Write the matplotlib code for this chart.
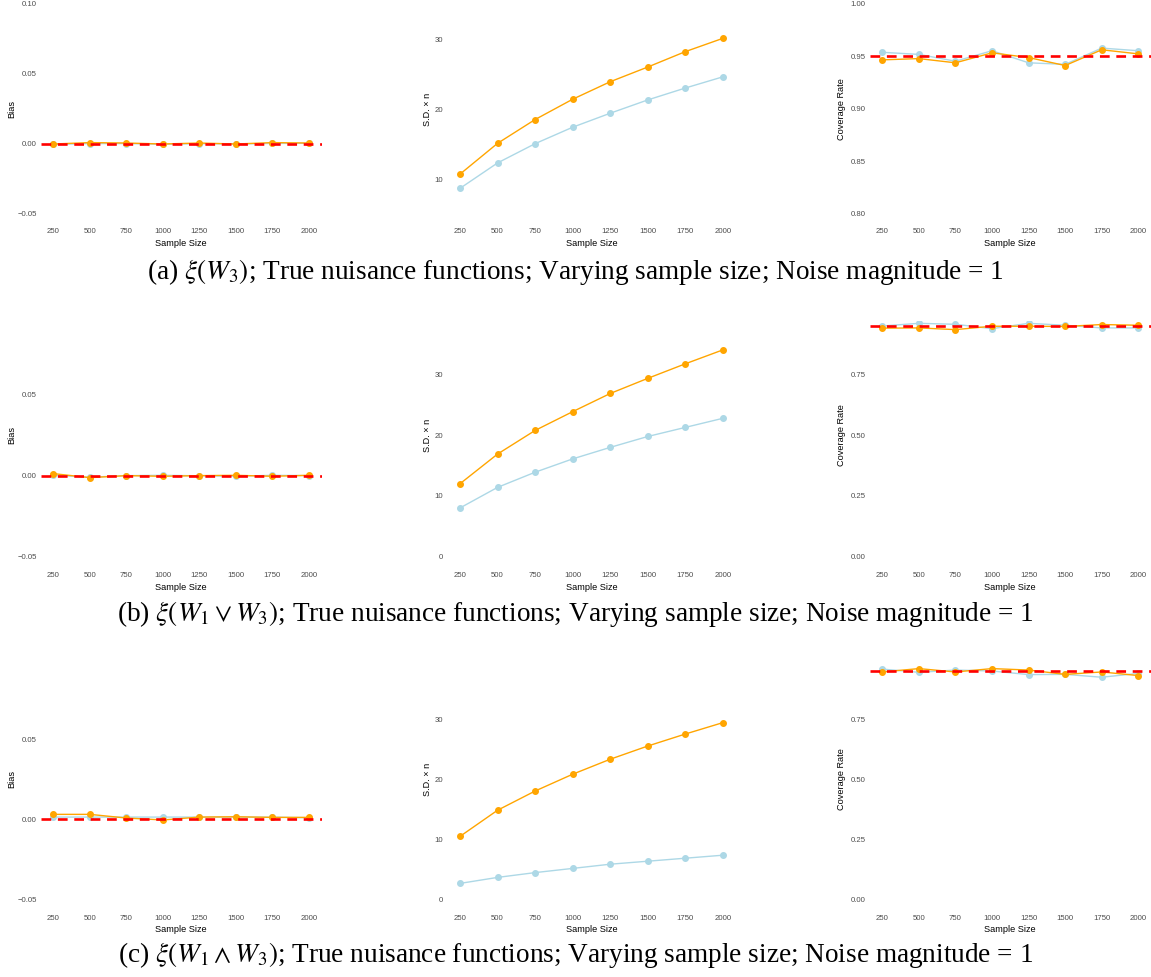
import matplotlib
matplotlib.use("Agg")
import matplotlib.pyplot as plt

# ---------------- data ----------------
sample_sizes = [250, 500, 750, 1000, 1250, 1500, 1750, 2000]
xtick_labels = ["250", "500", "750", "1000", "1250", "1500", "1750", "2000"]

# (a) xi(W3)
bias_a_blue = [-0.0003, 0.0003, 0.0003, -0.0002, 0.0002, 0.0000, 0.0004, 0.0005]
bias_a_orange = [0.0000, 0.0010, 0.0007, 0.0000, 0.0007, 0.0000, 0.0010, 0.0007]
sd_a_blue = [8.67, 12.3, 15.05, 17.4, 19.4, 21.3, 23.0, 24.6]
sd_a_orange = [10.7, 15.1, 18.5, 21.4, 23.9, 26.0, 28.2, 30.1]
cov_a_blue = [0.954, 0.952, 0.9455, 0.9555, 0.944, 0.9425, 0.958, 0.9555]
cov_a_orange = [0.9468, 0.948, 0.944, 0.9535, 0.949, 0.9414, 0.9564, 0.9525]

# (b) xi(W1 v W3)
bias_b_blue = [0.0002, -0.0010, 0.0000, 0.0002, -0.0001, -0.0004, 0.0002, 0.0000]
bias_b_orange = [0.00125, -0.00125, 0.0000, -0.0004, 0.0000, 0.0002, -0.0004, 0.0002]
sd_b_blue = [8.0, 11.4, 13.9, 16.1, 18.0, 19.8, 21.3, 22.8]
sd_b_orange = [12.0, 16.9, 20.8, 23.9, 26.9, 29.4, 31.8, 34.1]
cov_b_blue = [0.951, 0.962, 0.958, 0.940, 0.962, 0.954, 0.943, 0.943]
cov_b_orange = [0.942, 0.943, 0.936, 0.950, 0.950, 0.949, 0.957, 0.954]

# (c) xi(W1 ^ W3)
bias_c_blue = [0.0012, 0.0012, 0.0012, 0.0012, 0.0012, 0.0012, 0.0012, 0.0008]
bias_c_orange = [0.0029, 0.0029, 0.0006, -0.0006, 0.0012, 0.0014, 0.0010, 0.0010]
sd_c_blue = [2.6, 3.6, 4.4, 5.1, 5.8, 6.3, 6.8, 7.3]
sd_c_orange = [10.44, 14.8, 18.0, 20.8, 23.3, 25.5, 27.5, 29.4]
cov_c_blue = [0.958, 0.9445, 0.954, 0.950, 0.935, 0.936, 0.924, 0.940]
cov_c_orange = [0.946, 0.960, 0.946, 0.960, 0.954, 0.936, 0.946, 0.931]

bias_ref = 0.0
cov_ref = 0.95

y_labels = ["Bias", "S.D. \u00d7 n", "Coverage Rate"]
x_label = "Sample Size"

captions = [
    r"(a) $\xi(W_3)$; True nuisance functions; Varying sample size; Noise magnitude = 1",
    r"(b) $\xi(W_1 \vee W_3)$; True nuisance functions; Varying sample size; Noise magnitude = 1",
    r"(c) $\xi(W_1 \wedge W_3)$; True nuisance functions; Varying sample size; Noise magnitude = 1",
]

# y-ticks per row/panel
yticks_a = [[-0.05, 0.0, 0.05, 0.10], [10, 20, 30], [0.80, 0.85, 0.90, 0.95, 1.00]]
yticks_bc = [[-0.05, 0.0, 0.05], [0, 10, 20, 30], [0.0, 0.25, 0.50, 0.75]]

# ---------------- layout (pixels) ----------------
W, H, DPI = 1151, 977, 100
BLUE = "#ADD8E6"
ORANGE = "#FFA500"
TICK_COLOR = "#4D4D4D"

plt.rcParams["font.family"] = ["Liberation Sans", "DejaVu Sans"]
plt.rcParams["mathtext.fontset"] = "stix"
plt.rcParams["lines.scale_dashes"] = False

fig = plt.figure(figsize=(W / DPI, H / DPI), dpi=DPI)

cols_px = [(40.5, 321.8), (446.9, 736.1), (869.5, 1151.1)]
ylabel_x_px = [12.0, 427.0, 842.0]
# full panel extents (top, bottom) and visible top (cropping)
rows_px = [(-6.5, 224.5, 0.0), (302.0, 568.5, 321.0), (647.0, 911.0, 663.0)]
full_ylims = [
    [(-0.0575, 0.1075), (3.5, 36.5), (0.79, 1.01)],
    [(-0.0575, 0.1075), (-2.0, 42.0), (-0.05, 1.05)],
    [(-0.0575, 0.1075), (-2.0, 42.0), (-0.05, 1.05)],
]
caption_y = [272, 614, 955]

data = [
    [(bias_a_blue, bias_a_orange), (sd_a_blue, sd_a_orange), (cov_a_blue, cov_a_orange)],
    [(bias_b_blue, bias_b_orange), (sd_b_blue, sd_b_orange), (cov_b_blue, cov_b_orange)],
    [(bias_c_blue, bias_c_orange), (sd_c_blue, sd_c_orange), (cov_c_blue, cov_c_orange)],
]
yticks_rows = [yticks_a, yticks_bc, yticks_bc]


def fmt(v, panel):
    if panel == 1:
        return "%d" % v
    s = "%.2f" % v
    if v < 0:
        s = "\u2212" + s[1:]
    return s


for r, (top, bot, vtop) in enumerate(rows_px):
    atop = max(top, vtop)
    for c, (x0, x1) in enumerate(cols_px):
        ax = fig.add_axes([x0 / W, 1 - bot / H, (x1 - x0) / W, (bot - atop) / H])
        lo, hi = full_ylims[r][c]
        hi_vis = lo + (hi - lo) * (bot - atop) / (bot - top)
        blue, orange = data[r][c]
        ax.plot(sample_sizes, blue, color=BLUE, lw=1.0, marker="o", ms=4.0, zorder=2)
        ax.plot(sample_sizes, orange, color=ORANGE, lw=1.0, marker="o", ms=4.0, zorder=3)
        if c == 0:
            ax.axhline(bias_ref, color="red", lw=1.9, dashes=(7.0, 4.8), zorder=4)
        elif c == 2:
            ax.axhline(cov_ref, color="red", lw=1.9, dashes=(7.0, 4.8), zorder=4)
        ax.set_xlim(162.5, 2087.5)
        ax.set_ylim(lo, hi_vis)
        ax.set_xticks(sample_sizes)
        ax.set_xticklabels(xtick_labels)
        yt = yticks_rows[r][c]
        ax.set_yticks(yt)
        ax.set_yticklabels([fmt(v, c) for v in yt])
        ax.tick_params(length=0, labelsize=5.6, labelcolor=TICK_COLOR)
        ax.tick_params(axis="x", pad=2.8)
        ax.tick_params(axis="y", pad=2.7)
        for s in ax.spines.values():
            s.set_visible(False)
        ax.patch.set_alpha(0)
        # axis titles
        fig.text((x0 + x1) / 2 / W, 1 - (bot + 19.0) / H, x_label,
                 ha="center", va="center", fontsize=6.6)
        fig.text(ylabel_x_px[c] / W, 1 - (top + bot) / 2 / H, y_labels[c],
                 ha="center", va="center", rotation=90, fontsize=6.6)

    fig.text(575.5 / W, 1 - caption_y[r] / H, captions[r], ha="center", va="center",
             fontsize=19.6, family=["Liberation Serif", "DejaVu Serif"])

fig.savefig("out.png", dpi=DPI)
